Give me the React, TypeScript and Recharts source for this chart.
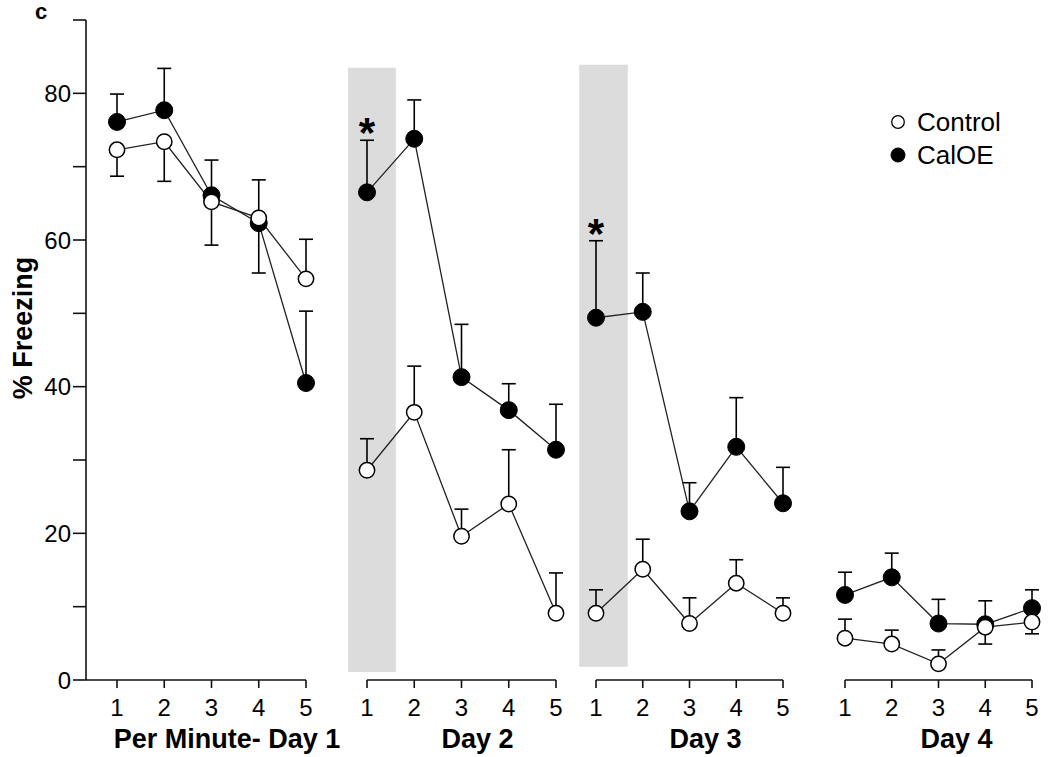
import React from 'react';
import {
  LineChart, Line, XAxis, YAxis, ErrorBar, ReferenceArea, ReferenceDot, Label, Legend,
} from 'recharts';

// ---- data ----
const minutes = [1, 2, 3, 4, 5];
const dayTitles = ['Per Minute- Day 1', 'Day 2', 'Day 3', 'Day 4'];
const yTicks = [0, 10, 20, 30, 40, 50, 60, 70, 80, 90];

const controlMean = [
  [72.3, 73.4, 65.2, 63.0, 54.7],
  [28.6, 36.5, 19.6, 24.0, 9.1],
  [9.1, 15.1, 7.7, 13.2, 9.1],
  [5.7, 4.9, 2.2, 7.2, 7.9],
];
const controlErrLow = [
  [3.6, 5.4, 5.9, 0, 0],
  [0, 0, 0, 0, 0],
  [0, 0, 0, 0, 0],
  [0, 0, 0, 2.3, 1.6],
];
const controlErrHigh = [
  [0, 0, 0, 5.2, 5.4],
  [4.3, 6.3, 3.7, 7.4, 5.5],
  [3.2, 4.1, 3.5, 3.2, 2.1],
  [2.6, 1.9, 1.9, 0, 0],
];

const calOEMean = [
  [76.1, 77.7, 66.1, 62.3, 40.5],
  [66.5, 73.8, 41.3, 36.8, 31.4],
  [49.4, 50.2, 23.0, 31.8, 24.1],
  [11.6, 14.0, 7.7, 7.6, 9.8],
];
const calOEErrLow = [
  [0, 0, 0, 6.8, 0],
  [0, 0, 0, 0, 0],
  [0, 0, 0, 0, 0],
  [0, 0, 0, 0, 0],
];
const calOEErrHigh = [
  [3.8, 5.7, 4.8, 0, 9.8],
  [7.1, 5.3, 7.2, 3.6, 6.2],
  [10.5, 5.3, 3.9, 6.7, 4.9],
  [3.1, 3.3, 3.3, 3.2, 2.5],
];

const significance = [
  ['', '', '', '', ''],
  ['*', '', '', '', ''],
  ['*', '', '', '', ''],
  ['', '', '', '', ''],
];

// shaded windows [x1, x2, y1, y2] in data units, per day (null = none)
const shadedWindows: (number[] | null)[] = [
  null,
  [0.6, 1.61, 1.1, 83.5],
  [0.64, 1.68, 1.8, 83.9],
  null,
];

// ---- layout / style ----
const FONT = '"Liberation Sans", Arial, Helvetica, sans-serif';
const INK = '#111';
const CH = 757;
const chartBoxes = [
  { left: 0, width: 350, margin: { top: 20, right: 44, left: 0, bottom: 0 }, xMin: 0.344, titleDx: 31 },
  { left: 340, width: 240, margin: { top: 20, right: 24, left: 27, bottom: 0 }, xMin: 1, titleDx: 16 },
  { left: 570, width: 240, margin: { top: 20, right: 27, left: 26, bottom: 0 }, xMin: 1, titleDx: 16 },
  { left: 820, width: 230, margin: { top: 20, right: 18, left: 25, bottom: 0 }, xMin: 1, titleDx: 18 },
];

function buildRows(d: number) {
  return minutes.map((m, i) => ({
    minute: m,
    control: controlMean[d][i],
    calOE: calOEMean[d][i],
    controlErr: [controlErrLow[d][i], controlErrHigh[d][i]],
    calOEErr: [calOEErrLow[d][i], calOEErrHigh[d][i]],
  }));
}

const renderTitle = (text: string, dx: number) => (props: any) => {
  const vb = props.viewBox || {};
  const cx = (vb.x || 0) + (vb.width || 0) / 2 + dx;
  return (
    <text x={cx} y={748} textAnchor="middle" fontSize={27} fontWeight="bold" fill="#000" fontFamily={FONT}>
      {text}
    </text>
  );
};

const renderYTitle = () => {
  const x = 23;
  const y = 328;
  return (
    <text
      x={x}
      y={y}
      transform={`rotate(-90 ${x} ${y})`}
      textAnchor="middle"
      dominantBaseline="central"
      fontSize={27}
      fontWeight="bold"
      fill="#000"
      fontFamily={FONT}
    >
      % Freezing
    </text>
  );
};

const renderPanelLetter = () => (
  <text x={35} y={19} fontSize={22} fontWeight="bold" fill="#000" fontFamily={FONT}>
    c
  </text>
);

const renderLegend = () => (
  <svg width={160} height={70} style={{ display: 'block', overflow: 'visible' }}>
    <circle cx={8} cy={17} r={6.3} fill="#fff" stroke="#000" strokeWidth={1.3} />
    <text x={27} y={17} dominantBaseline="central" fontSize={26} fill="#000" fontFamily={FONT}>Control</text>
    <circle cx={8} cy={50} r={7} fill="#000" stroke="#000" />
    <text x={27} y={50} dominantBaseline="central" fontSize={26} fill="#000" fontFamily={FONT}>CalOE</text>
  </svg>
);

function DayChart({ d }: { d: number }) {
  const box = chartBoxes[d];
  const rows = buildRows(d);
  const shade = shadedWindows[d];
  const starIdx = significance[d].map((s, i) => (s ? i : -1)).filter((i) => i >= 0);
  const isFirst = d === 0;
  return (
    <div style={{ position: 'absolute', left: box.left, top: 0, width: box.width, height: CH }}>
      <LineChart width={box.width} height={CH} data={rows} margin={box.margin}>
        <XAxis
          dataKey="minute"
          type="number"
          domain={[box.xMin, 5]}
          ticks={minutes}
          height={77}
          tickSize={8}
          tickMargin={11}
          tick={{ fontSize: 24, fill: '#000', fontFamily: FONT }}
          axisLine={{ stroke: INK, strokeWidth: 1.6 }}
          tickLine={{ stroke: INK, strokeWidth: 1.6 }}
        >
          <Label content={renderTitle(dayTitles[d], box.titleDx)} />
        </XAxis>
        {isFirst ? (
          <YAxis
            type="number"
            domain={[0, 90]}
            ticks={yTicks}
            width={86}
            tickSize={13}
            tickMargin={2}
            interval={0}
            tickFormatter={(v: number) => (v % 20 === 0 && v <= 80 ? String(v) : '')}
            tick={{ fontSize: 24, fill: '#000', fontFamily: FONT }}
            axisLine={{ stroke: INK, strokeWidth: 1.6 }}
            tickLine={{ stroke: INK, strokeWidth: 1.6 }}
          >
            <Label content={renderYTitle} />
            <Label content={renderPanelLetter} />
          </YAxis>
        ) : (
          <YAxis hide type="number" domain={[0, 90]} />
        )}
        {shade && (
          <ReferenceArea
            x1={shade[0]}
            x2={shade[1]}
            y1={shade[2]}
            y2={shade[3]}
            fill="#dcdcdc"
            fillOpacity={1}
            stroke="none"
            ifOverflow="visible"
          />
        )}
        {/* error bars first (carried by invisible lines), so markers sit on top */}
        <Line dataKey="calOE" stroke="none" dot={false} activeDot={false} legendType="none" isAnimationActive={false}>
          <ErrorBar dataKey="calOEErr" width={7} stroke="#000" strokeWidth={1.6} direction="y" />
        </Line>
        <Line dataKey="control" stroke="none" dot={false} activeDot={false} legendType="none" isAnimationActive={false}>
          <ErrorBar dataKey="controlErr" width={7} stroke="#000" strokeWidth={1.6} direction="y" />
        </Line>
        <Line
          dataKey="calOE"
          stroke="#222"
          strokeWidth={1.3}
          isAnimationActive={false}
          dot={{ r: 8.5, fill: '#000', stroke: '#000', strokeWidth: 1 }}
          activeDot={false}
          legendType="circle"
          name="CalOE"
        />
        <Line
          dataKey="control"
          stroke="#222"
          strokeWidth={1.3}
          isAnimationActive={false}
          dot={{ r: 7.7, fill: '#fff', stroke: '#000', strokeWidth: 1.5 }}
          activeDot={false}
          legendType="circle"
          name="Control"
        />
        {starIdx.map((i) => (
          <ReferenceDot
            key={i}
            x={minutes[i]}
            y={calOEMean[d][i] + calOEErrHigh[d][i]}
            r={0}
            fill="none"
            stroke="none"
            ifOverflow="visible"
            label={{ value: significance[d][i], position: 'top', offset: -7, fontSize: 42, fontWeight: 'bold', fill: '#000', fontFamily: FONT }}
          />
        ))}
        {d === 3 && (
          <Legend
            layout="vertical"
            align="center"
            verticalAlign="middle"
            content={renderLegend}
            wrapperStyle={{ left: 70, top: 105, width: 160, height: 70 }}
          />
        )}
      </LineChart>
    </div>
  );
}

export default function App() {
  return (
    <div style={{ position: 'absolute', left: 0, top: 0, width: 1050, height: CH, background: '#fff', fontFamily: FONT, overflow: 'hidden' }}>
      {dayTitles.map((_, d) => (
        <DayChart key={d} d={d} />
      ))}
    </div>
  );
}
